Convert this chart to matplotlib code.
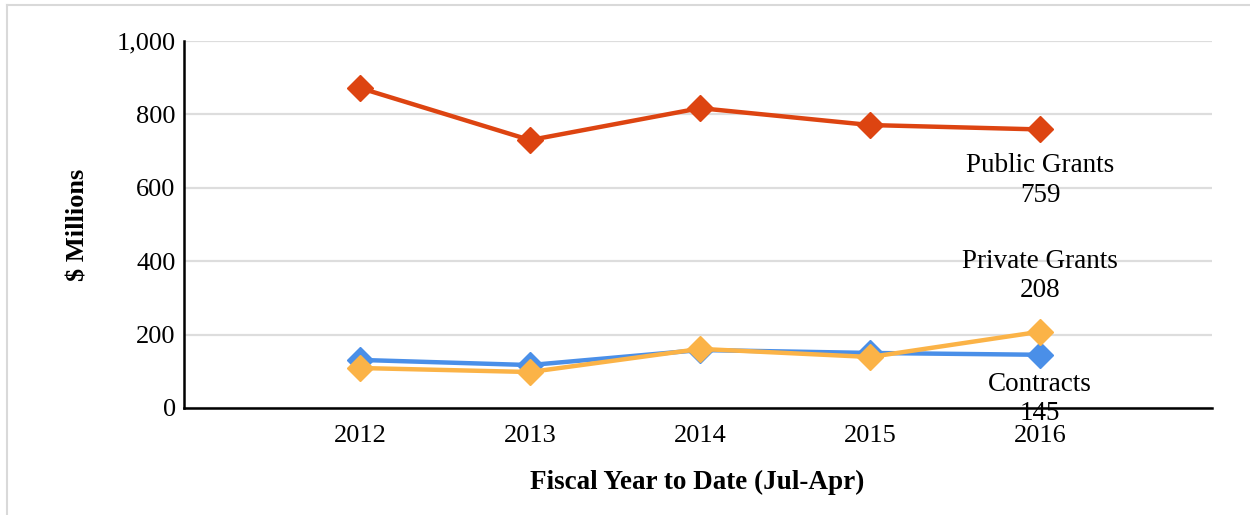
import matplotlib.pyplot as plt
from matplotlib.lines import Line2D

years = ['2012', '2013', '2014', '2015', '2016']
public_grants = [872, 730, 817, 771, 759]
contracts = [131, 117, 158, 150, 145]
private_grants = [109, 98, 161, 139, 208]

plt.rcParams['font.family'] = ['Liberation Serif', 'DejaVu Serif']

fig = plt.figure(figsize=(12.5, 5.15), dpi=100)
ax = fig.add_axes([184 / 1250, 1 - 408 / 515, (1212 - 184) / 1250, (408 - 41) / 515])

x = list(range(len(years)))
ax.plot(x, public_grants, color='#DD4411', lw=3.2, marker='D', ms=13, zorder=3)
ax.plot(x, contracts, color='#4A8FE8', lw=3.2, marker='D', ms=13, zorder=3)
ax.plot(x, private_grants, color='#FBB347', lw=3.2, marker='D', ms=13, zorder=4)

# end-of-line labels
ax.annotate('Public Grants\n' + str(public_grants[-1]), (x[-1], public_grants[-1]),
            xytext=(0, -51), textcoords='offset pixels', ha='center', va='center',
            fontsize=19.5, linespacing=1.22)
ax.annotate('Private Grants\n' + str(private_grants[-1]), (x[-1], private_grants[-1]),
            xytext=(0, 56), textcoords='offset pixels', ha='center', va='center',
            fontsize=19.5, linespacing=1.22)
ax.annotate('Contracts\n' + str(contracts[-1]), (x[-1], contracts[-1]),
            xytext=(0, -44), textcoords='offset pixels', ha='center', va='center',
            fontsize=19.5, linespacing=1.22, zorder=6)

ax.set_xlim(-1.035, 5.01)
ax.set_ylim(0, 1000)
ax.set_xticks(x)
ax.set_xticklabels(years)
ax.set_yticks([0, 200, 400, 600, 800, 1000])
ax.set_yticklabels(['0', '200', '400', '600', '800', '1,000'])
ax.tick_params(length=0, labelsize=19)
ax.tick_params(axis='x', pad=12)
ax.tick_params(axis='y', pad=6)
ax.grid(axis='y', color='#DDDDDD', lw=1.6)
ax.set_axisbelow(True)
for s in ['top', 'right']:
    ax.spines[s].set_visible(False)
for s in ['left', 'bottom']:
    ax.spines[s].set_linewidth(1.8)
    ax.spines[s].set_color('black')
    ax.spines[s].set_zorder(5)

fig.text(78 / 1250, 1 - 225 / 515, '$ Millions', rotation=90, ha='center', va='center',
         fontsize=19, fontweight='bold')
fig.text(697 / 1250, 1 - 482 / 515, 'Fiscal Year to Date (Jul-Apr)', ha='center', va='center',
         fontsize=19.5, fontweight='bold')

# light frame around chart
fig.add_artist(Line2D([7 / 1250, 7 / 1250], [0, 1 - 5 / 515], color='#D9D9D9', lw=1.5))
fig.add_artist(Line2D([7 / 1250, 1], [1 - 5 / 515, 1 - 5 / 515], color='#D9D9D9', lw=1.5))

fig.savefig('out.png', dpi=100)
